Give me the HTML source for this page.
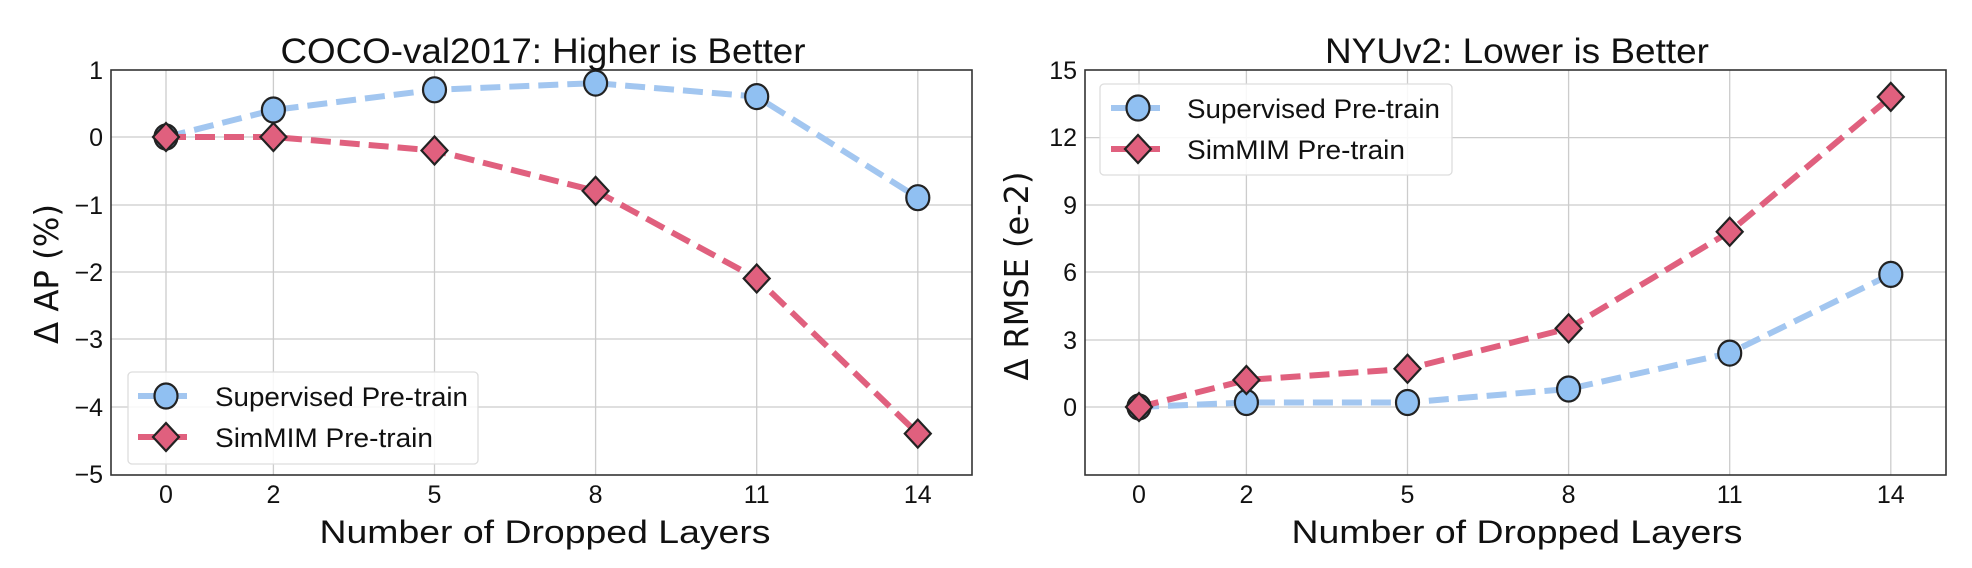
<!DOCTYPE html>
<html><head><meta charset="utf-8"><style>
html,body{margin:0;padding:0;background:#fff;}
svg{display:block;}
text{font-family:"Liberation Sans Narrow","Liberation Sans",sans-serif;fill:#111;}
</style></head><body>
<svg width="1972" height="568" viewBox="0 0 1972 568" xmlns="http://www.w3.org/2000/svg">
<defs>
<g id="dm"><polygon points="0,-14 13,0 0,14 -13,0" fill="#e0607e" stroke="#222" stroke-width="2.2"/></g>
<g id="ci"><ellipse cx="0" cy="0" rx="11.5" ry="12.5" fill="#90c0f2" stroke="#222" stroke-width="2.2"/></g>
</defs>
<!-- LEFT -->
<g stroke="#ccc" stroke-width="1.3">
<line x1="166" y1="70" x2="166" y2="475"/><line x1="273.4" y1="70" x2="273.4" y2="475"/><line x1="434.5" y1="70" x2="434.5" y2="475"/><line x1="595.6" y1="70" x2="595.6" y2="475"/><line x1="756.7" y1="70" x2="756.7" y2="475"/><line x1="917.8" y1="70" x2="917.8" y2="475"/>
<line x1="111" y1="137" x2="972" y2="137"/><line x1="111" y1="205" x2="972" y2="205"/><line x1="111" y1="272" x2="972" y2="272"/><line x1="111" y1="339" x2="972" y2="339"/><line x1="111" y1="407" x2="972" y2="407"/>
</g>
<rect x="111" y="70" width="861" height="405" fill="none" stroke="#333" stroke-width="1.6"/>
<polyline points="166,137 273.4,110 434.5,89.8 595.6,83.1 756.7,96.6 917.8,197.7" fill="none" stroke="#a2c6f0" stroke-width="6" stroke-dasharray="20,9"/>
<polyline points="166,137 273.4,137 434.5,150.5 595.6,190.9 756.7,278.5 917.8,433.6" fill="none" stroke="#e0607e" stroke-width="6" stroke-dasharray="20,9"/>
<use href="#ci" x="166" y="137"/><use href="#ci" x="273.4" y="110"/><use href="#ci" x="434.5" y="89.8"/><use href="#ci" x="595.6" y="83.1"/><use href="#ci" x="756.7" y="96.6"/><use href="#ci" x="917.8" y="197.7"/>
<use href="#dm" x="166" y="137"/><use href="#dm" x="273.4" y="137"/><use href="#dm" x="434.5" y="150.5"/><use href="#dm" x="595.6" y="190.9"/><use href="#dm" x="756.7" y="278.5"/><use href="#dm" x="917.8" y="433.6"/>
<g font-size="25" text-anchor="end">
<text x="103" y="79">1</text><text x="103" y="146">0</text><text x="103" y="214">−1</text><text x="103" y="281">−2</text><text x="103" y="348">−3</text><text x="103" y="416">−4</text><text x="103" y="483">−5</text>
</g>
<g font-size="25" text-anchor="middle">
<text x="166" y="503">0</text><text x="273.4" y="503">2</text><text x="434.5" y="503">5</text><text x="595.6" y="503">8</text><text x="756.7" y="503">11</text><text x="917.8" y="503">14</text>
</g>
<text x="543" y="63" font-size="35" text-anchor="middle" textLength="525" lengthAdjust="spacingAndGlyphs">COCO-val2017: Higher is Better</text>
<text x="545" y="543" font-size="32" text-anchor="middle" textLength="451" lengthAdjust="spacingAndGlyphs">Number of Dropped Layers</text>
<text transform="translate(58,274) rotate(-90)" font-size="33" text-anchor="middle" style="font-family:'DejaVu Sans',sans-serif" textLength="140" lengthAdjust="spacingAndGlyphs">Δ AP (%)</text>
<rect x="128" y="372" width="350" height="92" rx="4" fill="#fff" fill-opacity="0.85" stroke="#ddd" stroke-width="1.3"/>
<line x1="138" y1="396" x2="192" y2="396" stroke="#a2c6f0" stroke-width="6" stroke-dasharray="20,9"/>
<use href="#ci" x="166" y="396"/>
<line x1="138" y1="437" x2="192" y2="437" stroke="#e0607e" stroke-width="6" stroke-dasharray="20,9"/>
<use href="#dm" x="166" y="437"/>
<text x="215" y="406" font-size="27" textLength="253" lengthAdjust="spacingAndGlyphs">Supervised Pre-train</text>
<text x="215" y="447" font-size="27" textLength="218" lengthAdjust="spacingAndGlyphs">SimMIM Pre-train</text>

<!-- RIGHT -->
<g stroke="#ccc" stroke-width="1.3">
<line x1="1139" y1="70" x2="1139" y2="475"/><line x1="1246.4" y1="70" x2="1246.4" y2="475"/><line x1="1407.5" y1="70" x2="1407.5" y2="475"/><line x1="1568.6" y1="70" x2="1568.6" y2="475"/><line x1="1729.7" y1="70" x2="1729.7" y2="475"/><line x1="1890.8" y1="70" x2="1890.8" y2="475"/>
<line x1="1085" y1="137.6" x2="1946" y2="137.6"/><line x1="1085" y1="205" x2="1946" y2="205"/><line x1="1085" y1="272" x2="1946" y2="272"/><line x1="1085" y1="340" x2="1946" y2="340"/><line x1="1085" y1="407" x2="1946" y2="407"/>
</g>
<rect x="1085" y="70" width="861" height="405" fill="none" stroke="#333" stroke-width="1.6"/>
<polyline points="1139,407 1246.4,402.5 1407.5,402.5 1568.6,389 1729.7,353.1 1890.8,274.4" fill="none" stroke="#a2c6f0" stroke-width="6" stroke-dasharray="20,9"/>
<polyline points="1139,407 1246.4,380 1407.5,368.8 1568.6,328.4 1729.7,231.7 1890.8,96.9" fill="none" stroke="#e0607e" stroke-width="6" stroke-dasharray="20,9"/>
<use href="#ci" x="1139" y="407"/><use href="#ci" x="1246.4" y="402.5"/><use href="#ci" x="1407.5" y="402.5"/><use href="#ci" x="1568.6" y="389"/><use href="#ci" x="1729.7" y="353.1"/><use href="#ci" x="1890.8" y="274.4"/>
<use href="#dm" x="1139" y="407"/><use href="#dm" x="1246.4" y="380"/><use href="#dm" x="1407.5" y="368.8"/><use href="#dm" x="1568.6" y="328.4"/><use href="#dm" x="1729.7" y="231.7"/><use href="#dm" x="1890.8" y="96.9"/>
<g font-size="25" text-anchor="end">
<text x="1077" y="79">15</text><text x="1077" y="146">12</text><text x="1077" y="214">9</text><text x="1077" y="281">6</text><text x="1077" y="349">3</text><text x="1077" y="416">0</text>
</g>
<g font-size="25" text-anchor="middle">
<text x="1139" y="503">0</text><text x="1246.4" y="503">2</text><text x="1407.5" y="503">5</text><text x="1568.6" y="503">8</text><text x="1729.7" y="503">11</text><text x="1890.8" y="503">14</text>
</g>
<text x="1517" y="63" font-size="35" text-anchor="middle" textLength="384" lengthAdjust="spacingAndGlyphs">NYUv2: Lower is Better</text>
<text x="1517" y="543" font-size="32" text-anchor="middle" textLength="451" lengthAdjust="spacingAndGlyphs">Number of Dropped Layers</text>
<text transform="translate(1028,276) rotate(-90)" font-size="33" text-anchor="middle" style="font-family:'DejaVu Sans',sans-serif" textLength="209" lengthAdjust="spacingAndGlyphs">Δ RMSE (e-2)</text>
<rect x="1100" y="84" width="352" height="91" rx="4" fill="#fff" fill-opacity="0.85" stroke="#ddd" stroke-width="1.3"/>
<line x1="1111" y1="108" x2="1165" y2="108" stroke="#a2c6f0" stroke-width="6" stroke-dasharray="20,9"/>
<use href="#ci" x="1138" y="108"/>
<line x1="1111" y1="149" x2="1165" y2="149" stroke="#e0607e" stroke-width="6" stroke-dasharray="20,9"/>
<use href="#dm" x="1138" y="149"/>
<text x="1187" y="118" font-size="27" textLength="253" lengthAdjust="spacingAndGlyphs">Supervised Pre-train</text>
<text x="1187" y="159" font-size="27" textLength="218" lengthAdjust="spacingAndGlyphs">SimMIM Pre-train</text>
</svg>
</body></html>
